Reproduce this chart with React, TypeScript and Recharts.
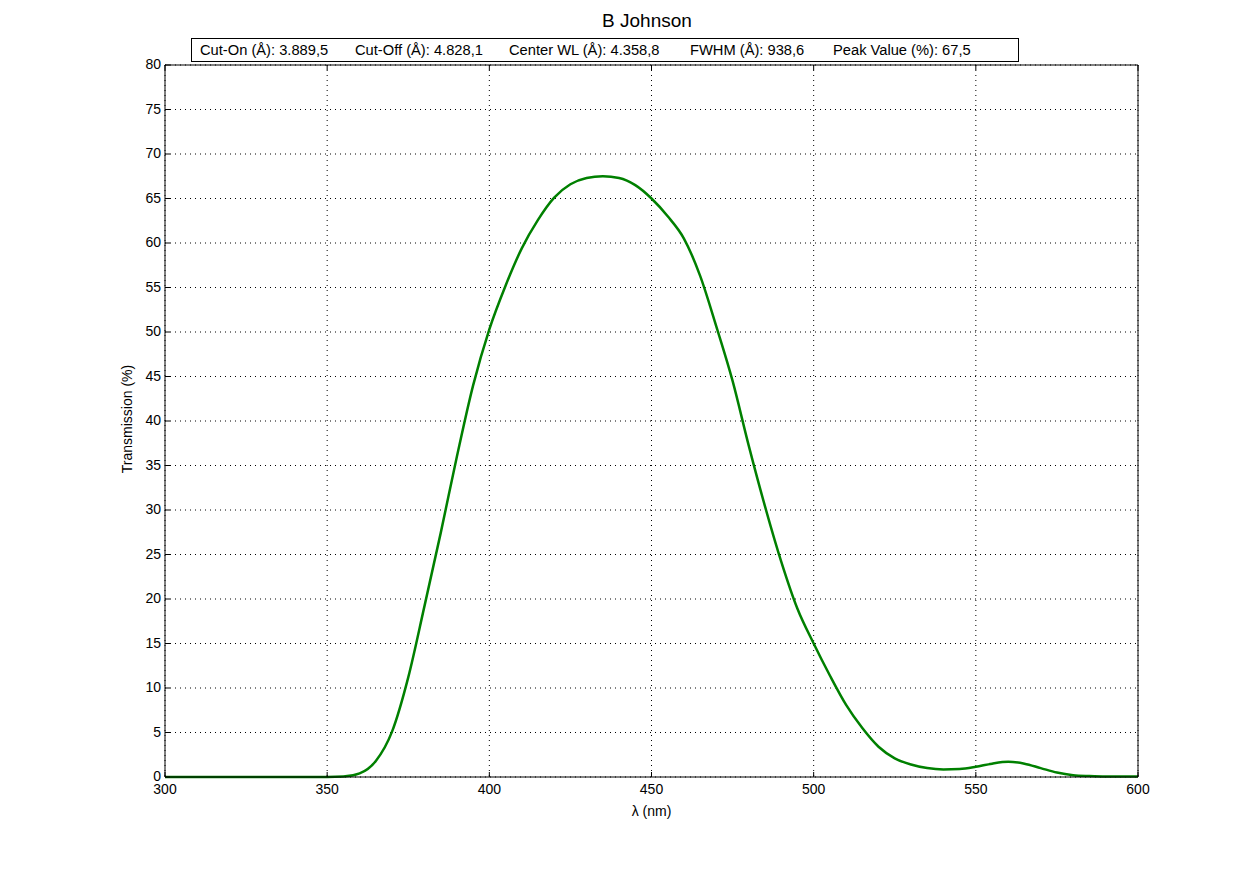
import { CartesianGrid, Line, LineChart, XAxis, YAxis } from "recharts";

const wavelengths = [
  300, 310, 320, 330, 340, 350, 355, 360, 365, 370, 375, 380, 385, 390, 395, 400, 405, 410, 415, 420, 425, 430,
  435, 440, 445, 450, 455, 460, 465, 470, 475, 480, 485, 490, 495, 500, 505, 510, 515, 520, 525, 530, 535, 540,
  545, 550, 555, 560, 565, 570, 575, 580, 585, 590, 595, 600,
];
const transmission = [
  0, 0, 0, 0, 0, 0, 0.05, 0.4, 1.8, 5.1, 11.2, 19.2, 27.4, 36, 44, 50.3, 55.2, 59.4, 62.6, 65.1, 66.6, 67.3,
  67.5, 67.3, 66.5, 65, 63.0, 60.5, 56.3, 50.6, 44.5, 37.2, 30.4, 24.2, 18.9, 15, 11.4, 8.1, 5.5, 3.4, 2.1, 1.4,
  1.0, 0.85, 0.9, 1.15, 1.5, 1.7, 1.5, 1.0, 0.5, 0.2, 0.1, 0.05, 0.05, 0.05,
];
const xTicks = [300, 350, 400, 450, 500, 550, 600];
const yTicks = [0, 5, 10, 15, 20, 25, 30, 35, 40, 45, 50, 55, 60, 65, 70, 75, 80];

const title = "B Johnson";
const stats = [
  { text: "Cut-On (Å): 3.889,5", x: 200 },
  { text: "Cut-Off (Å): 4.828,1", x: 355 },
  { text: "Center WL (Å): 4.358,8", x: 509 },
  { text: "FWHM (Å): 938,6", x: 690 },
  { text: "Peak Value (%): 67,5", x: 833 },
];

const data = wavelengths.map((wl, i) => ({ wl, t: transmission[i] }));

const FONT = "'Liberation Sans', Arial, sans-serif";

function BottomTick({ x, y, payload }: any) {
  return (
    <g>
      <line x1={x} x2={x} y1={y} y2={y - 5} stroke="#000" />
      <text x={x} y={y + 17} textAnchor="middle" fontSize={14} fontFamily={FONT} fill="#000">
        {payload.value}
      </text>
    </g>
  );
}

function LeftTick({ x, y, payload }: any) {
  return (
    <g>
      <line x1={x} x2={x + 5} y1={y} y2={y} stroke="#000" />
      <text x={x - 4} y={y + 4} textAnchor="end" fontSize={14} fontFamily={FONT} fill="#000">
        {payload.value}
      </text>
    </g>
  );
}

function TopTick({ x, y }: any) {
  return <line x1={x} x2={x} y1={y} y2={y + 5} stroke="#000" />;
}

function RightTick({ x, y }: any) {
  return <line x1={x} x2={x - 5} y1={y} y2={y} stroke="#000" />;
}

export default function App() {
  return (
    <div style={{ position: "absolute", left: 0, top: 0, width: 1258, height: 873, background: "#fff", fontFamily: FONT }}>
      <LineChart
        width={1258}
        height={873}
        data={data}
        margin={{ top: 64, right: 119, bottom: 66, left: 125 }}
      >
        <CartesianGrid xAxisId="b" yAxisId="l" stroke="#000" strokeDasharray="1 4" />
        <XAxis
          xAxisId="b"
          dataKey="wl"
          type="number"
          domain={[300, 600]}
          ticks={xTicks}
          height={30}
          tickSize={0}
          tickMargin={0}
          tick={<BottomTick />}
          axisLine={{ stroke: "#000" }}
          tickLine={false}
          interval={0}
        />
        <XAxis
          xAxisId="t"
          orientation="top"
          dataKey="wl"
          type="number"
          domain={[300, 600]}
          ticks={xTicks}
          height={1}
          tickSize={0}
          tickMargin={0}
          tick={<TopTick />}
          axisLine={{ stroke: "#000" }}
          tickLine={false}
          interval={0}
        />
        <YAxis
          yAxisId="l"
          type="number"
          domain={[0, 80]}
          ticks={yTicks}
          width={40}
          tickSize={0}
          tickMargin={0}
          tick={<LeftTick />}
          axisLine={{ stroke: "#000" }}
          tickLine={false}
          interval={0}
        />
        <YAxis
          yAxisId="r"
          orientation="right"
          type="number"
          domain={[0, 80]}
          ticks={yTicks}
          width={1}
          tickSize={0}
          tickMargin={0}
          tick={<RightTick />}
          axisLine={{ stroke: "#000" }}
          tickLine={false}
          interval={0}
        />
        <Line
          xAxisId="b"
          yAxisId="l"
          dataKey="t"
          type="monotone"
          stroke="#008000"
          strokeWidth={2.5}
          dot={false}
          isAnimationActive={false}
        />
      </LineChart>
      <div style={{ position: "absolute", left: 0, width: 1294, top: 10, textAlign: "center", fontSize: 19 }}>{title}</div>
      <div
        style={{
          position: "absolute",
          left: 191,
          top: 38,
          width: 828,
          height: 24,
          border: "1px solid #000",
          boxSizing: "border-box",
          background: "#fff",
        }}
      />
      {stats.map((s) => (
        <div key={s.text} style={{ position: "absolute", left: s.x, top: 42, fontSize: 14.7, whiteSpace: "pre" }}>
          {s.text}
        </div>
      ))}
      <div style={{ position: "absolute", left: 0, width: 1303, top: 803, textAlign: "center", fontSize: 14 }}>λ (nm)</div>
      <div
        style={{
          position: "absolute",
          left: 127 - 100,
          top: 421 - 10,
          width: 200,
          textAlign: "center",
          fontSize: 14,
          transform: "rotate(-90deg)",
        }}
      >
        Transmission (%)
      </div>
    </div>
  );
}
